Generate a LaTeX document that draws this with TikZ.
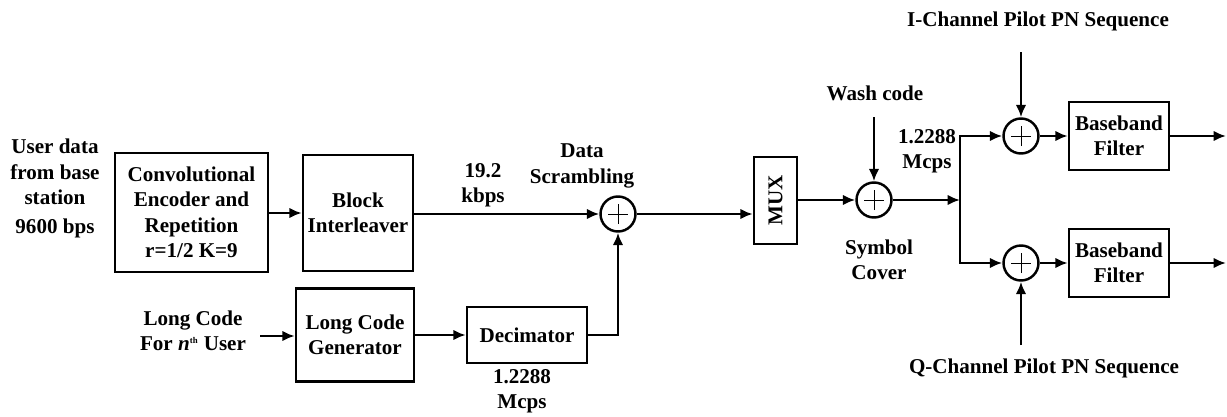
\documentclass[tikz,border=0pt]{standalone}
\usepackage{fontspec}
\setmainfont{Liberation Serif}
\usepackage{tikz}
\usetikzlibrary{arrows.meta,calc}

\begin{document}
\begin{tikzpicture}[x=0.02cm, y=-0.02cm,
  font=\fontsize{12}{14.5}\selectfont\bfseries,
  >={Latex[length=7pt,width=6pt]},
  blk/.style={draw, line width=1.5pt, align=center, inner sep=2pt},
  lbl/.style={align=center, inner sep=1pt},
  wire/.style={line width=1.4pt},
  adder/.style={circle, draw, line width=1.4pt, minimum size=0.7cm, inner sep=0pt,
    path picture={
      \draw[line width=0.5pt] ($(path picture bounding box.center)+(-0.2cm,0cm)$) -- ($(path picture bounding box.center)+(0.2cm,0cm)$);
      \draw[line width=0.5pt] ($(path picture bounding box.center)+(0cm,-0.2cm)$) -- ($(path picture bounding box.center)+(0cm,0.2cm)$);
    }}]
\useasboundingbox (0,0) rectangle (1227,416);

% input side
\node[lbl] (userdata) at (55,172) {User data\\from base\\station};
\node[lbl] (rate) at (55,228) {9600 bps};
\node[blk, minimum width=3.06cm, minimum height=2.38cm] (conv) at (191.5,212.5)
  {Convolutional\\Encoder and\\Repetition\\r=1/2 K=9};
\node[blk, minimum width=2.2cm, minimum height=2.32cm] (inter) at (358,213) {Block\\Interleaver};
\node[adder] (add1) at (618,214) {};
\node[lbl] (kbps) at (483,185) {19.2\\kbps};
\node[lbl] (scram) at (582,166) {Data\\Scrambling};

% long code branch
\node[lbl] (longcode) at (193,331) {Long Code\\For \textit{n}\textsuperscript{\tiny th} User};
\coordinate (lcin) at (260,336);
\node[blk, minimum width=2.36cm, minimum height=1.86cm] (lcg) at (355,335) {Long Code\\Generator};
\node[blk, minimum width=2.4cm, minimum height=1.12cm] (dec) at (527,335) {Decimator};
\node[lbl] (decrate) at (522,391) {1.2288\\Mcps};

% mux and symbol cover
\node[blk, minimum width=0.86cm, minimum height=1.74cm] (mux) at (775.5,200.5) {};
\node[rotate=90] at (mux.center) {MUX};
\node[adder] (add2) at (874,200) {};
\node[lbl] (wash) at (875,93) {Wash code};
\coordinate (washin) at (874,117);
\node[lbl] (cover) at (879,260) {Symbol\\Cover};
\node[lbl] (chiprate) at (927,151) {1.2288\\Mcps};
\coordinate (branch) at (960,200);

% I and Q channels
\foreach \ch/\y/\py/\ty/\tx/\txt in {I/136/52/21/1038/I-Channel Pilot PN Sequence,
                                     Q/263/345/368/1044/Q-Channel Pilot PN Sequence}{
  \node[adder] (add\ch) at (1021,\y) {};
  \node[lbl] (pn\ch) at (\tx,\ty) {\txt};
  \coordinate (pnin\ch) at (1021,\py);
  \node[blk, minimum width=2cm, minimum height=1.36cm] (bb\ch) at (1119,\y) {Baseband\\Filter};
  \coordinate (out\ch) at (1226,\y);
  \draw[wire,->] (pnin\ch) -- (add\ch);
  \draw[wire,->] (branch) |- (add\ch);
  \draw[wire,->] (add\ch) -- (bb\ch);
  \draw[wire,->] (bb\ch) -- (out\ch);
}

% connectors
\draw[wire,->] (conv.east |- inter.west) -- (inter.west);
\draw[wire,->] (inter.east |- add1.west) -- (add1.west);
\draw[wire,->] (lcin) -- (lcg.west |- lcin);
\draw[wire,->] (lcg.east |- dec.west) -- (dec.west);
\draw[wire,->] (dec.east) -| (add1.south);
\draw[wire,->] (add1.east) -- (add1.east -| mux.west);
\draw[wire,->] (mux.east |- add2.west) -- (add2.west);
\draw[wire,->] (washin) -- (add2.north);
\draw[wire,->] (add2.east) -- (branch);
\end{tikzpicture}
\end{document}
